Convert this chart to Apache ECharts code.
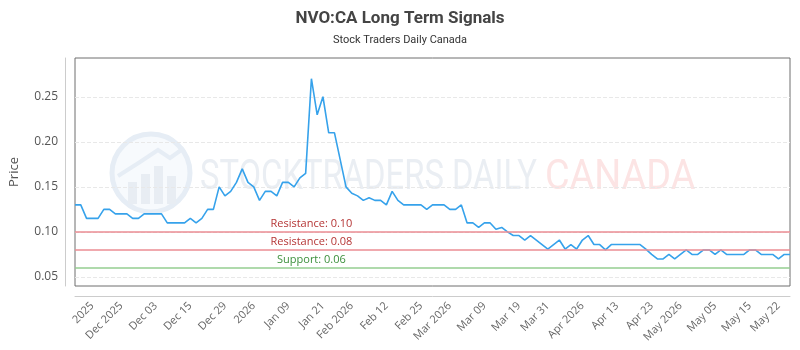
<!DOCTYPE html>
<html>
<head>
<meta charset="utf-8">
<script src="https://cdn.jsdelivr.net/npm/echarts@6/dist/echarts.min.js"></script>
<style>
html, body { margin: 0; padding: 0; background: #fff; }
#chart { width: 800px; height: 350px; }
</style>
</head>
<body>
<div id="chart"></div>
<script>
// closing prices, one per session
var prices = [
    0.13, 0.13, 0.115, 0.115, 0.115, 0.125, 0.125, 0.12, 0.12, 0.12,
    0.115, 0.115, 0.12, 0.12, 0.12, 0.12, 0.11, 0.11, 0.11, 0.11,
    0.115, 0.11, 0.115, 0.125, 0.125, 0.15, 0.14, 0.145, 0.155, 0.17,
    0.155, 0.15, 0.135, 0.145, 0.145, 0.14, 0.155, 0.155, 0.15, 0.16,
    0.165, 0.27, 0.23, 0.25, 0.21, 0.21, 0.18, 0.15, 0.143, 0.14,
    0.135, 0.138, 0.135, 0.135, 0.13, 0.145, 0.135, 0.13, 0.13, 0.13,
    0.13, 0.125, 0.13, 0.13, 0.13, 0.125, 0.125, 0.13, 0.11, 0.11,
    0.105, 0.11, 0.11, 0.103, 0.105, 0.10, 0.096, 0.096, 0.091, 0.096,
    0.091, 0.086, 0.081, 0.086, 0.091, 0.081, 0.086, 0.081, 0.091, 0.096,
    0.086, 0.086, 0.08, 0.086, 0.086, 0.086, 0.086, 0.086, 0.086, 0.081,
    0.075, 0.07, 0.07, 0.075, 0.07, 0.075, 0.08, 0.075, 0.075, 0.08,
    0.08, 0.075, 0.08, 0.075, 0.075, 0.075, 0.075, 0.08, 0.08, 0.075,
    0.075, 0.075, 0.07, 0.075, 0.075
];
var sessions = prices.map(function (p, i) { return i; });

// which sessions get a date label
var tickIndex = [3, 8, 14, 20, 26, 31, 37, 43, 48, 54, 60, 65, 71, 77, 82, 88, 94, 100, 105, 111, 117, 122];
var tickLabels = ['2025', 'Dec 2025', 'Dec 03', 'Dec 15', 'Dec 29', '2026', 'Jan 09', 'Jan 21',
    'Feb 2026', 'Feb 12', 'Feb 25', 'Mar 2026', 'Mar 09', 'Mar 19', 'Mar 31', 'Apr 2026',
    'Apr 13', 'Apr 23', 'May 2026', 'May 05', 'May 15', 'May 22'];

var yTicks = [0.05, 0.10, 0.15, 0.20, 0.25];

var levelValues = [0.10, 0.08, 0.06];
var levelNames = ['Resistance', 'Resistance', 'Support'];
var levelLine = ['#eb8d93', '#eb8d93', '#95ce90'];
var levelText = ['#b53535', '#b53535', '#3c903c'];

var peak = prices.indexOf(Math.max.apply(null, prices));
var font = 'Open Sans';

var chart = echarts.init(document.getElementById('chart'));
var option = {
    animation: false,
    title: {
        left: 'center',
        top: 5,
        text: 'NVO:CA Long Term Signals',
        subtext: 'Stock Traders Daily Canada',
        itemGap: 8,
        textStyle: { fontFamily: 'Roboto', fontSize: 17, fontWeight: 'bold', color: '#444' },
        subtextStyle: { fontFamily: 'Roboto', fontSize: 11, color: '#333' }
    },
    grid: {
        left: 70,
        right: 10,
        top: 58,
        bottom: 64,
        show: true,
        borderColor: '#6e6e6e',
        borderWidth: 1
    },
    graphic: [
        {
            type: 'group', silent: true, z: 0,
            children: [
                { type: 'circle', shape: { cx: 151, cy: 173, r: 39 },
                  style: { fill: '#f7fafd', stroke: '#e6edf5', lineWidth: 5 } },
                { type: 'rect', shape: { x: 128, y: 182, width: 9, height: 22 }, style: { fill: '#e8edf3' } },
                { type: 'rect', shape: { x: 141, y: 174, width: 9, height: 30 }, style: { fill: '#e8edf3' } },
                { type: 'rect', shape: { x: 154, y: 166, width: 9, height: 38 }, style: { fill: '#e8edf3' } },
                { type: 'rect', shape: { x: 167, y: 176, width: 9, height: 28 }, style: { fill: '#e8edf3' } },
                { type: 'polyline', shape: { points: [[118, 176], [140, 162], [158, 150], [170, 158], [184, 148]] },
                  style: { stroke: '#e6edf5', lineWidth: 4, fill: null } },
                { type: 'text', x: 200, y: 178, scaleX: 0.78,
                  style: { text: 'STOCKTRADERS DAILY', fontFamily: 'Roboto', fontSize: 42,
                           fill: '#eaeef3', textVerticalAlign: 'middle' } },
                { type: 'text', x: 545, y: 178, scaleX: 0.9,
                  style: { text: 'CANADA', fontFamily: 'Roboto', fontSize: 42,
                           fill: '#fce4e4', textVerticalAlign: 'middle' } }
            ]
        }
    ],
    xAxis: {
        type: 'category',
        data: sessions,
        boundaryGap: false,
        offset: 10,
        axisLine: { lineStyle: { color: '#cccccc' } },
        axisTick: { show: false },
        splitLine: { show: false },
        axisLabel: {
            rotate: 45,
            margin: 8,
            fontFamily: font,
            fontSize: 11,
            color: '#666',
            interval: function (index) { return tickIndex.indexOf(index) >= 0; },
            formatter: function (value, index) {
                var k = tickIndex.indexOf(index);
                return k >= 0 ? tickLabels[k] : '';
            }
        }
    },
    yAxis: {
        type: 'value',
        min: 0.04,
        max: 0.293,
        offset: 10,
        name: 'Price',
        nameLocation: 'middle',
        nameGap: 44,
        nameTextStyle: { fontFamily: font, fontSize: 13, color: '#555' },
        axisLine: { show: true, lineStyle: { color: '#cccccc' } },
        axisTick: { show: false, customValues: yTicks },
        axisLabel: {
            customValues: yTicks,
            margin: 7,
            fontFamily: font,
            fontSize: 12,
            color: '#555',
            formatter: function (v) { return v.toFixed(2); }
        },
        splitLine: { show: true, lineStyle: { color: '#e8e8e8', type: 'dashed' } }
    },
    series: [
        {
            type: 'line',
            data: prices,
            symbol: 'none',
            z: 3,
            lineStyle: { color: '#36a2eb', width: 1.6 },
            markLine: {
                silent: true,
                symbol: ['none', 'none'],
                label: { show: false },
                data: levelValues.map(function (v, i) {
                    return { yAxis: v, lineStyle: { color: levelLine[i], width: 1.6, type: 'solid' } };
                })
            },
            markPoint: {
                silent: true,
                symbolSize: 0,
                data: levelValues.map(function (v, i) {
                    return {
                        coord: [peak, v],
                        name: levelNames[i] + ': ' + v.toFixed(2),
                        label: {
                            show: true,
                            position: 'top',
                            distance: 3,
                            formatter: '{b}',
                            fontFamily: font,
                            fontSize: 11,
                            color: levelText[i]
                        }
                    };
                })
            }
        }
    ]
};
chart.setOption(option);
</script>
</body>
</html>
